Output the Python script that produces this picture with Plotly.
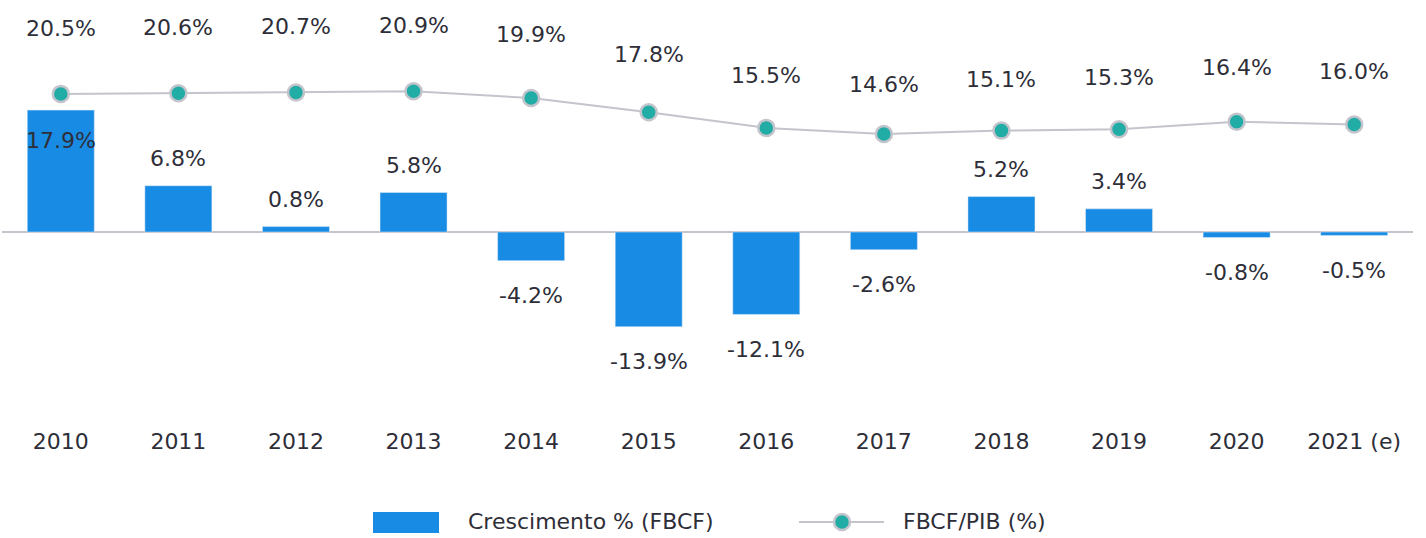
import plotly.graph_objects as go

years = ["2010", "2011", "2012", "2013", "2014", "2015", "2016", "2017", "2018", "2019", "2020", "2021 (e)"]
crescimento = [17.9, 6.8, 0.8, 5.8, -4.2, -13.9, -12.1, -2.6, 5.2, 3.4, -0.8, -0.5]
fbcf_pib = [20.5, 20.6, 20.7, 20.9, 19.9, 17.8, 15.5, 14.6, 15.1, 15.3, 16.4, 16.0]

BAR_COLOR = "#188ce4"
TEAL = "#22aca6"
GREY = "#c4c4cc"
TEXT = "#2e2e38"
FONT = "DejaVu Sans"
LEG_FONT = "DejaVu Sans"

W, H = 1426, 538
ML, MR, MT, MB = 2, 13, 10, 118
PW, PH = W - ML - MR, H - MT - MB

fig = go.Figure()
fig.add_trace(go.Bar(x=years, y=crescimento, marker_color=BAR_COLOR, width=0.57,
                     name="Crescimento % (FBCF)", showlegend=False, yaxis="y"))
fig.add_trace(go.Scatter(x=years, y=fbcf_pib, mode="lines+markers", yaxis="y2",
                         line=dict(color=GREY, width=2),
                         marker=dict(size=16, color=TEAL, line=dict(color=GREY, width=2.5)),
                         name="FBCF/PIB (%)", showlegend=False))

annotations = []
for i, v in enumerate(crescimento):
    if i == 0:
        shift = -30
    elif v >= 0:
        shift = 27
    else:
        shift = -35
    annotations.append(dict(x=i, y=v, xref="x", yref="y", text=f"{v:.1f}%", showarrow=False,
                            yshift=shift, font=dict(family=FONT, size=22, color=TEXT)))
# line labels sit on their own (hidden) label axis
for i, v in enumerate(fbcf_pib):
    annotations.append(dict(x=i, y=v, xref="x", yref="y3", text=f"{v:.1f}%", showarrow=False,
                            font=dict(family=FONT, size=22, color=TEXT)))

# custom legend (paper coords are relative to the plot area)
def px(x):
    return (x - ML) / PW
def py(y):
    return (MT + PH - y) / PH

shapes = [
    dict(type="rect", xref="paper", yref="paper", x0=px(373), x1=px(439), y0=py(533), y1=py(512),
         fillcolor=BAR_COLOR, line=dict(width=0)),
    dict(type="line", xref="paper", yref="paper", x0=px(799), x1=px(884), y0=py(522), y1=py(522),
         line=dict(color=GREY, width=2)),
    dict(type="circle", xref="paper", yref="paper", x0=px(834), x1=px(850), y0=py(530), y1=py(514),
         fillcolor=TEAL, line=dict(color=GREY, width=2.5)),
]
annotations.append(dict(xref="paper", yref="paper", x=px(466), y=py(521), xanchor="left", yanchor="middle",
                        text="Crescimento % (FBCF)", showarrow=False,
                        font=dict(family=LEG_FONT, size=22, color=TEXT)))
annotations.append(dict(xref="paper", yref="paper", x=px(901), y=py(521), xanchor="left", yanchor="middle",
                        text="FBCF/PIB (%)", showarrow=False,
                        font=dict(family=LEG_FONT, size=22, color=TEXT)))

fig.update_layout(
    width=W, height=H,
    margin=dict(l=ML, r=MR, t=MT, b=MB),
    paper_bgcolor="white", plot_bgcolor="white",
    xaxis=dict(type="category", range=[-0.5, len(years) - 0.5], showgrid=False, zeroline=False,
               showline=False, ticks="", ticklabelstandoff=6,
               tickfont=dict(family=FONT, size=22, color=TEXT)),
    yaxis=dict(range=[-27.6, 32.6], showgrid=False, showticklabels=False, zeroline=True,
               zerolinecolor=GREY, zerolinewidth=2),
    yaxis2=dict(range=[-27.46, 32.84], overlaying="y", side="right", showgrid=False,
                showticklabels=False, zeroline=False),
    yaxis3=dict(range=[-21.2, 22.51], overlaying="y", side="right", showgrid=False,
                showticklabels=False, zeroline=False, visible=False),
    annotations=annotations,
    shapes=shapes,
    showlegend=False,
)

fig.write_html("out.html", config={"displayModeBar": False},
               post_script="document.body.style.margin='0';")
